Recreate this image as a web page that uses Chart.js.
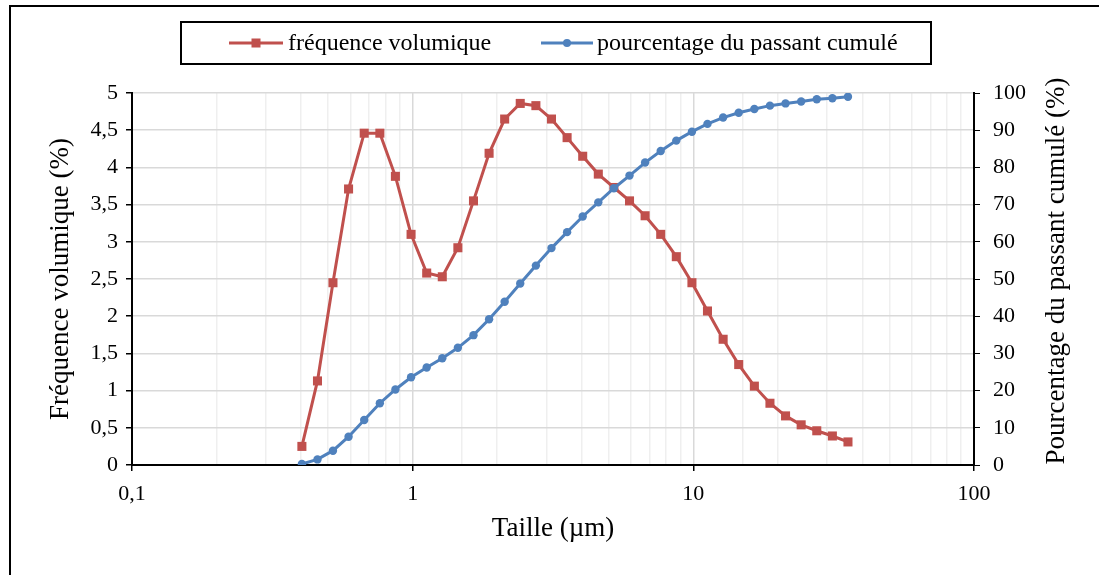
<!DOCTYPE html>
<html>
<head>
<meta charset="utf-8">
<script src="https://cdn.jsdelivr.net/npm/chart.js@4/dist/chart.umd.min.js"></script>
<style>
  html, body { margin: 0; padding: 0; background: #fff; }
</style>
</head>
<body>
<canvas id="chart" width="1099" height="575"></canvas>
<script>
const tailles = [0.403, 0.458, 0.520, 0.591, 0.672, 0.764, 0.868, 0.987, 1.122, 1.275,
  1.449, 1.647, 1.872, 2.127, 2.417, 2.748, 3.123, 3.550, 4.035, 4.586,
  5.212, 5.924, 6.733, 7.652, 8.697, 9.886, 11.23, 12.77, 14.51, 16.50,
  18.75, 21.31, 24.22, 27.53, 31.29, 35.56];
// fréquence volumique (%)
const frequence = [0.25, 1.13, 2.45, 3.71, 4.46, 4.46, 3.88, 3.10, 2.58, 2.53,
  2.92, 3.55, 4.19, 4.65, 4.86, 4.83, 4.65, 4.40, 4.15, 3.91,
  3.73, 3.55, 3.35, 3.10, 2.80, 2.45, 2.07, 1.69, 1.35, 1.06,
  0.83, 0.66, 0.54, 0.46, 0.39, 0.31];
// pourcentage du passant cumulé (%)
const cumul = [0.27, 1.5, 3.85, 7.6, 12.1, 16.6, 20.3, 23.6, 26.2, 28.7,
  31.5, 34.9, 39.2, 43.9, 48.8, 53.6, 58.3, 62.6, 66.8, 70.6,
  74.4, 77.8, 81.3, 84.4, 87.2, 89.6, 91.7, 93.4, 94.7, 95.7,
  96.6, 97.2, 97.7, 98.3, 98.6, 99.0];

const labels = ["fréquence volumique", "pourcentage du passant cumulé"];
const titreX = "Taille (µm)";
const titreY1 = "Fréquence volumique (%)";
const titreY2 = "Pourcentage du passant cumulé (%)";

const ROUGE = "#C0504D";
const BLEU = "#4F81BD";
const POLICE = "'Liberation Serif', 'Times New Roman', serif";

const estDecade = (v) => Math.abs(Math.log10(v) - Math.round(Math.log10(v))) < 1e-9;
const virgule = (v) => String(v).replace(".", ",");

// cadre, légende encadrée et titre de l'axe de droite
const decor = {
  id: "decor",
  beforeDraw(chart) {
    const ctx = chart.ctx;
    ctx.save();
    ctx.fillStyle = "#fff";
    ctx.fillRect(0, 0, chart.width, chart.height);
    ctx.restore();
  },
  afterDraw(chart) {
    const ctx = chart.ctx;
    ctx.save();
    ctx.strokeStyle = "#000";
    ctx.lineWidth = 2;
    ctx.strokeRect(10, 6, 1300, 800);
    ctx.strokeRect(181, 22, 750, 42);

    const items = [
      { x0: 229, x1: 283, tx: 288 },
      { x0: 541, x1: 593, tx: 597 },
    ];
    const y = 43;
    chart.data.datasets.forEach((ds, i) => {
      const it = items[i];
      ctx.strokeStyle = ds.borderColor;
      ctx.lineWidth = 3;
      ctx.beginPath();
      ctx.moveTo(it.x0, y);
      ctx.lineTo(it.x1, y);
      ctx.stroke();
      ctx.fillStyle = ds.backgroundColor;
      const cx = (it.x0 + it.x1) / 2;
      if (ds.pointStyle === "rect") {
        ctx.fillRect(cx - 4.5, y - 4.5, 9, 9);
      } else {
        ctx.beginPath();
        ctx.arc(cx, y, 4, 0, Math.PI * 2);
        ctx.fill();
      }
      ctx.fillStyle = "#000";
      ctx.font = "24px " + POLICE;
      ctx.textBaseline = "middle";
      ctx.textAlign = "left";
      ctx.fillText(ds.label, it.tx, y + 1);
    });

    ctx.translate(1057, 271);
    ctx.rotate(-Math.PI / 2);
    ctx.font = "27px " + POLICE;
    ctx.textAlign = "center";
    ctx.textBaseline = "middle";
    ctx.fillStyle = "#000";
    ctx.fillText(titreY2, 0, 0);
    ctx.restore();
  },
};

new Chart(document.getElementById("chart"), {
  type: "line",
  data: {
    datasets: [
      {
        label: labels[0],
        data: tailles.map((t, i) => ({ x: t, y: frequence[i] })),
        yAxisID: "y",
        borderColor: ROUGE,
        backgroundColor: ROUGE,
        borderWidth: 3,
        pointStyle: "rect",
        pointRadius: 6.4,
        pointBorderWidth: 0,
        tension: 0,
        order: 2,
      },
      {
        label: labels[1],
        data: tailles.map((t, i) => ({ x: t, y: cumul[i] })),
        yAxisID: "y2",
        borderColor: BLEU,
        backgroundColor: BLEU,
        borderWidth: 3,
        pointStyle: "circle",
        pointRadius: 4.2,
        pointBorderWidth: 0,
        tension: 0,
        order: 1,
      },
    ],
  },
  options: {
    responsive: false,
    animation: false,
    devicePixelRatio: 1,
    layout: { padding: { left: 0, right: 0, top: 93, bottom: 0 } },
    plugins: { legend: { display: false }, tooltip: { enabled: false } },
    scales: {
      x: {
        type: "logarithmic",
        min: 0.1,
        max: 100,
        afterFit: (s) => { s.height = 110; },
        border: { color: "#000", width: 2 },
        grid: {
          color: (c) => (c.tick && estDecade(c.tick.value) ? "#d9d9d9" : "#efefef"),
          lineWidth: 1.5,
          tickLength: 6,
          tickColor: (c) => (c.tick && estDecade(c.tick.value) ? "#000" : "rgba(0,0,0,0)"),
        },
        ticks: {
          autoSkip: false,
          maxRotation: 0,
          padding: 10,
          color: "#000",
          font: { family: POLICE, size: 22 },
          callback: (v) => (estDecade(v) ? virgule(v) : ""),
        },
        title: {
          display: true,
          text: titreX,
          color: "#000",
          font: { family: POLICE, size: 27 },
          padding: { top: 0, bottom: 30 },
        },
      },
      y: {
        position: "left",
        min: 0,
        max: 5,
        afterFit: (s) => { s.width = 132; },
        border: { color: "#000", width: 2 },
        grid: { color: "#d9d9d9", lineWidth: 1.5, tickLength: 6, tickColor: "#000" },
        ticks: {
          stepSize: 0.5,
          padding: 8,
          color: "#000",
          font: { family: POLICE, size: 22 },
          callback: (v) => virgule(v),
        },
        title: {
          display: true,
          text: titreY1,
          color: "#000",
          font: { family: POLICE, size: 27 },
          padding: { top: 45, bottom: 0 },
        },
      },
      y2: {
        position: "right",
        min: 0,
        max: 100,
        afterFit: (s) => { s.width = 125; },
        border: { color: "#000", width: 2 },
        grid: { drawOnChartArea: false, tickLength: 6, tickColor: "#000" },
        ticks: {
          stepSize: 10,
          padding: 13,
          color: "#000",
          font: { family: POLICE, size: 22 },
        },
      },
    },
  },
  plugins: [decor],
});
</script>
</body>
</html>
